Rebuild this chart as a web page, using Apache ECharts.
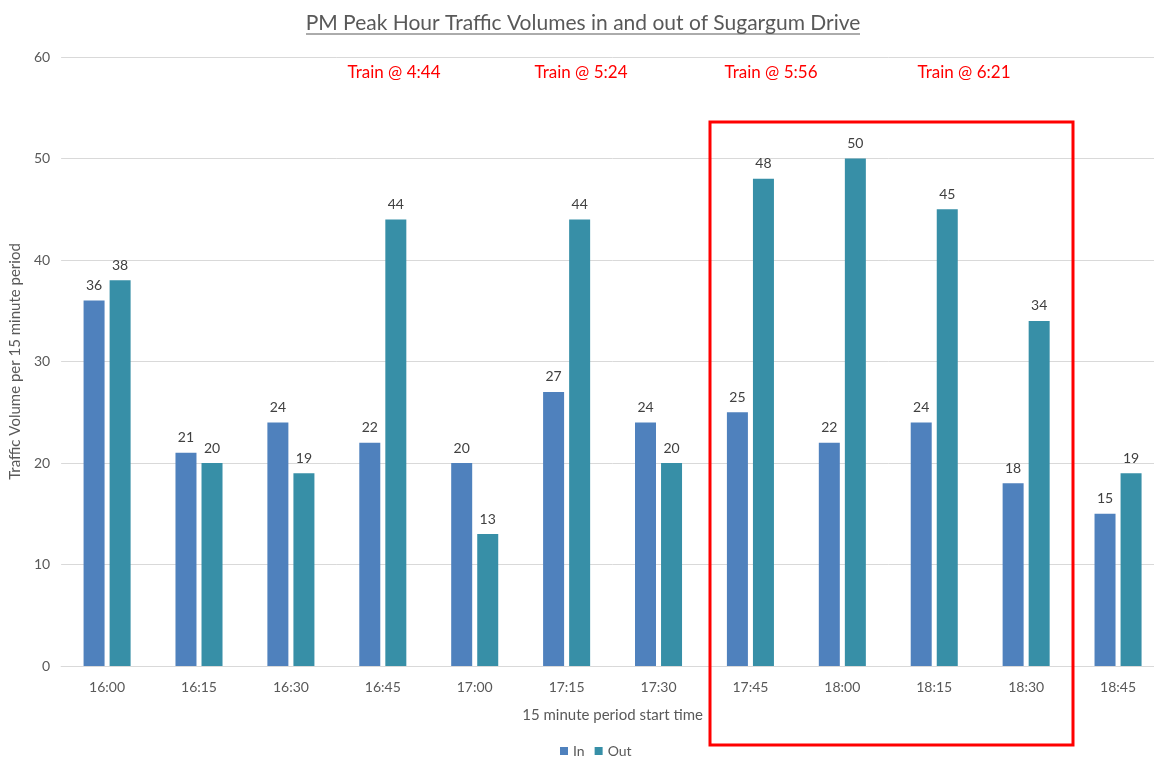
<!DOCTYPE html>
<html>
<head>
<meta charset="utf-8">
<script src="https://cdn.jsdelivr.net/npm/echarts@6/dist/echarts.min.js"></script>
<style>
  html, body { margin: 0; padding: 0; background: #fff; overflow: hidden; }
  #chart { width: 1170px; height: 758px; }
</style>
</head>
<body>
<div id="chart"></div>
<script>
// 15-minute period start times
const periods = ['16:00', '16:15', '16:30', '16:45', '17:00', '17:15', '17:30', '17:45', '18:00', '18:15', '18:30', '18:45'];
// Vehicles entering / leaving Sugargum Drive per period
const volumeIn = [36, 21, 24, 22, 20, 27, 24, 25, 22, 24, 18, 15];
const volumeOut = [38, 20, 19, 44, 13, 44, 20, 48, 50, 45, 34, 19];
// Train arrival notes shown above the bars
const trainNotes = ['Train @ 4:44', 'Train @ 5:24', 'Train @ 5:56', 'Train @ 6:21'];
const trainNoteX = [394, 581, 771, 964];

const FONT = 'Lato, "Open Sans", sans-serif';
const TEXT = '#595959';

const chart = echarts.init(document.getElementById('chart'));

const graphics = [
  {
    type: 'line',
    shape: { x1: 306, y1: 34, x2: 860, y2: 34 },
    style: { stroke: TEXT, lineWidth: 1 }
  },
  {
    type: 'rect',
    shape: { x: 710, y: 122, width: 363, height: 623 },
    style: { fill: 'none', stroke: '#FF0000', lineWidth: 3 },
    z: 100
  }
];
trainNotes.forEach((t, i) => {
  graphics.push({
    type: 'text',
    x: trainNoteX[i],
    y: 73,
    style: {
      text: t,
      fill: '#FF0000',
      font: '17px ' + FONT,
      textAlign: 'center',
      textVerticalAlign: 'middle'
    }
  });
});

const labelStyle = {
  show: true,
  position: 'top',
  distance: 8,
  color: '#404040',
  fontSize: 14,
  fontFamily: FONT
};

chart.setOption({
  animation: false,
  backgroundColor: '#ffffff',
  title: {
    text: 'PM Peak Hour Traffic Volumes in and out of Sugargum Drive',
    left: 578,
    textAlign: 'center',
    top: 8,
    textStyle: { color: TEXT, fontSize: 21, fontWeight: 'normal', fontFamily: FONT }
  },
  legend: {
    top: 739,
    left: 555,
    itemWidth: 8,
    itemHeight: 8,
    itemGap: 10,
    icon: 'rect',
    textStyle: { color: TEXT, fontSize: 14, fontFamily: FONT },
    data: ['In', 'Out']
  },
  grid: { left: 57, top: 57, width: 1107, bottom: 92 },
  xAxis: {
    type: 'category',
    data: periods,
    name: '15 minute period start time',
    nameLocation: 'middle',
    nameGap: 42,
    nameTextStyle: { color: TEXT, fontSize: 15, fontFamily: FONT },
    axisLine: { lineStyle: { color: '#D9D9D9' } },
    axisTick: { show: false },
    axisLabel: { color: TEXT, fontSize: 14, fontFamily: FONT, margin: 14 }
  },
  yAxis: {
    type: 'value',
    min: 0,
    max: 60,
    interval: 10,
    name: 'Traffic Volume per 15 minute period',
    nameLocation: 'middle',
    nameGap: 37,
    nameTextStyle: { color: TEXT, fontSize: 15, fontFamily: FONT },
    axisLine: { show: false },
    axisTick: { show: false },
    axisLabel: { color: TEXT, fontSize: 14, fontFamily: FONT, margin: 11 },
    splitLine: { lineStyle: { color: '#D9D9D9' } }
  },
  series: [
    {
      name: 'In',
      type: 'bar',
      data: volumeIn,
      barWidth: 21,
      barGap: '24%',
      itemStyle: { color: '#4F81BD' },
      label: labelStyle
    },
    {
      name: 'Out',
      type: 'bar',
      data: volumeOut,
      barWidth: 21,
      barGap: '24%',
      itemStyle: { color: '#378FA7' },
      label: labelStyle
    }
  ],
  graphic: graphics
});
</script>
</body>
</html>
